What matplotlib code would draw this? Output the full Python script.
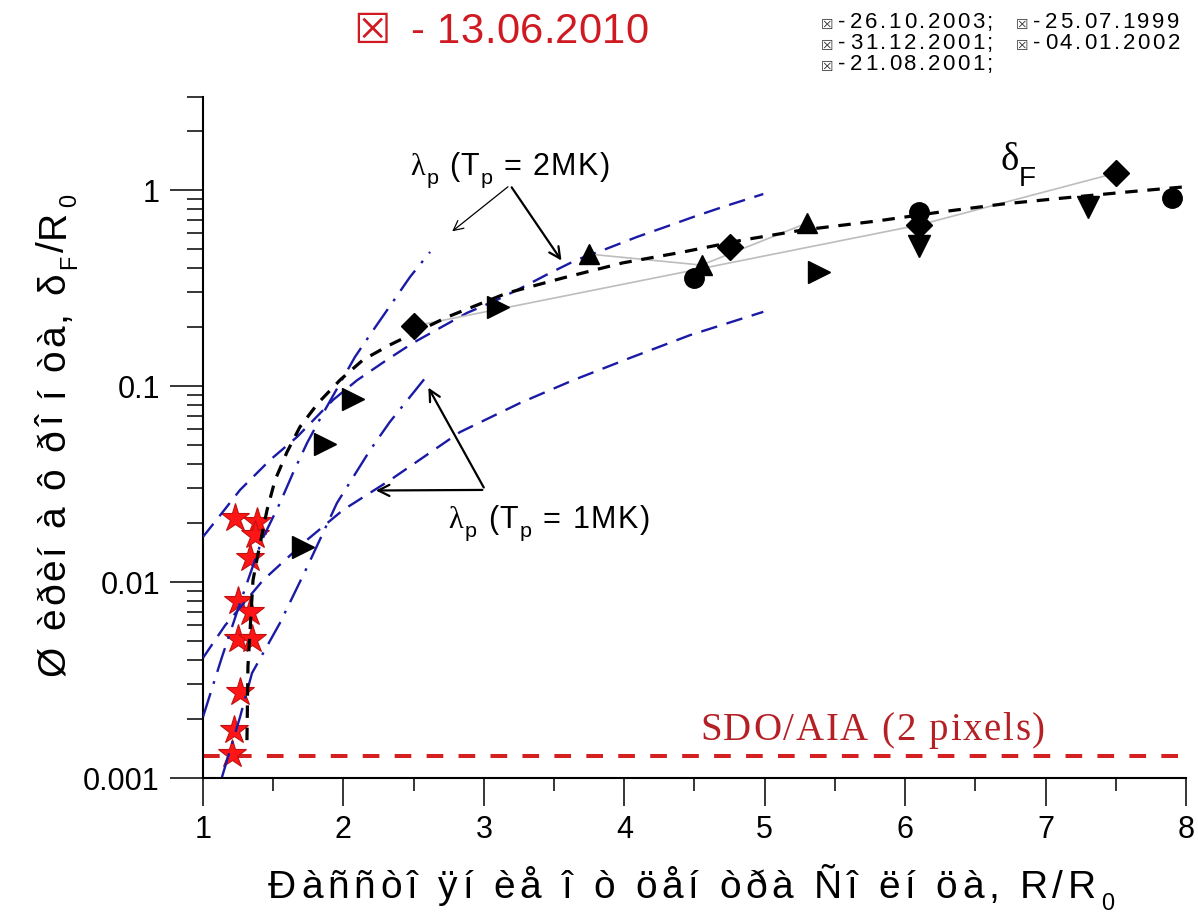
import numpy as np
import matplotlib
matplotlib.use("Agg")
import matplotlib.pyplot as plt
from matplotlib import font_manager as fm
from matplotlib.font_manager import FontProperties
from matplotlib.ft2font import FT2Font
from matplotlib.ticker import FixedLocator, MultipleLocator, LogLocator, NullFormatter, FixedFormatter
try:
    from matplotlib.ft2font import LoadFlags
    NOHINT = LoadFlags.NO_HINTING
except Exception:
    from matplotlib.ft2font import LOAD_NO_HINTING as NOHINT

W, H, DPI = 1198, 916, 100

# ---------------- data ----------------
# red stars: 13.06.2010
star_x = [1.23, 1.385, 1.37, 1.335, 1.25, 1.335, 1.25, 1.35, 1.265, 1.22, 1.21]
star_y = [0.0212, 0.0202, 0.0174, 0.0133, 0.0080, 0.0070, 0.0051, 0.0051, 0.00275, 0.00176, 0.00133]

# black symbols (other events)
circ_x = [4.50, 6.10, 7.90]
circ_y = [0.356, 0.772, 0.91]
diam_x = [2.50, 4.75, 6.10, 7.50]
diam_y = [0.202, 0.512, 0.663, 1.22]
tup_x = [3.75, 4.55, 5.30]
tup_y = [0.471, 0.414, 0.678]
tdn_x = [6.10, 7.30]
tdn_y = [0.518, 0.819]
trt_x = [1.71, 1.87, 2.07, 3.10, 5.39]
trt_y = [0.0151, 0.0506, 0.0859, 0.253, 0.382]

# thin grey connecting line
grey_x = [2.50, 6.10, 7.50]
grey_y = [0.202, 0.663, 1.22]

# delta_F fit (black dashed)
fit_x = [1.313, 1.32, 1.356, 1.39, 1.456, 1.513, 1.598, 1.69, 1.82, 1.976, 2.14, 2.33, 2.74,
         3.165, 3.564, 3.99, 4.42, 4.846, 5.27, 5.80, 6.25, 6.70, 7.125, 7.58, 7.97]
fit_y = [0.00156, 0.0037, 0.0102, 0.0137, 0.0233, 0.0331, 0.046, 0.0618, 0.0819, 0.1073, 0.136, 0.162, 0.225,
         0.298, 0.356, 0.425, 0.483, 0.556, 0.625, 0.695, 0.772, 0.849, 0.91, 0.977, 1.035]

# lambda_p curves (blue)
l2mk_x = [1.0, 1.135, 1.264, 1.477, 1.67, 1.926, 2.097, 2.31, 2.496, 2.688, 2.88, 3.094, 3.279, 3.47,
          3.66, 3.85, 4.09, 4.29, 4.49, 4.70, 4.99]
l2mk_y = [0.017, 0.0225, 0.0295, 0.0419, 0.055, 0.0849, 0.107, 0.136, 0.166, 0.198, 0.236, 0.275, 0.32,
          0.377, 0.44, 0.494, 0.576, 0.647, 0.728, 0.819, 0.954]
l1mk_x = [1.0, 1.157, 1.427, 1.741, 1.997, 2.332, 2.83, 3.258, 3.635, 4.04, 4.47, 4.99]
l1mk_y = [0.0041, 0.0060, 0.0102, 0.0164, 0.0233, 0.0331, 0.0582, 0.0819, 0.107, 0.139, 0.182, 0.239]
l2mk_b_x = [1.0, 1.135, 1.264, 1.42, 1.548, 1.641, 1.741, 1.848, 2.083, 2.204, 2.346, 2.474, 2.617]
l2mk_b_y = [0.00205, 0.00414, 0.00782, 0.0164, 0.0253, 0.036, 0.0512, 0.0711, 0.141, 0.189, 0.265, 0.36, 0.483]
l1mk_b_x = [1.135, 1.264, 1.349, 1.548, 1.741, 1.954, 2.19, 2.33, 2.617]
l1mk_b_y = [0.00101, 0.00205, 0.00343, 0.00618, 0.0119, 0.0253, 0.0471, 0.0655, 0.118]

sdo_level = 0.0013

x_ticks = [1, 2, 3, 4, 5, 6, 7, 8]
y_ticks = [0.001, 0.01, 0.1, 1]
y_tick_labels = ["0.001", "0.01", "0.1", "1"]

title_date = "13.06.2010"
legend_dates = [["26.10.2003;", "25.07.1999"], ["31.12.2001;", "04.01.2002"], ["21.08.2001;"]]
xlabel_main = "Ðàññòî ÿí èå î ò öåí òðà Ñî ëí öà, R/R"
ylabel_main = "Ø èðèí à ô ðî í òà, "

# ---------------- fonts ----------------
def has_font(name):
    try:
        fm.findfont(FontProperties(family=name), fallback_to_default=False)
        return True
    except Exception:
        return False

SANS = next((f for f in ["Liberation Sans Narrow", "Liberation Sans"] if has_font(f)), "DejaVu Sans")
SERIF = "Liberation Serif" if has_font("Liberation Serif") else "DejaVu Serif"
SYM = "DejaVu Sans"
plt.rcParams['font.family'] = [SANS, 'DejaVu Sans']
plt.rcParams['lines.scale_dashes'] = False

_paths = {}
def advance_px(ch, family, size_pt):
    if family not in _paths:
        _paths[family] = fm.findfont(FontProperties(family=family))
    f = FT2Font(_paths[family])
    f.set_size(size_pt, DPI)
    g = f.load_char(ord(ch), flags=NOHINT)
    return g.linearHoriAdvance / 65536.0

fig = plt.figure(figsize=(W / DPI, H / DPI), dpi=DPI)

def tracked(x0, y0, segs, size, color, end=None, track=0.0, rot=0):
    """Place characters one by one (pixel coords, y downward) with letter spacing."""
    items = []
    for txt, fam, rs, sh in segs:
        for ch in txt:
            fs = size * rs
            items.append((ch, fam, fs, sh * size * DPI / 72.0, advance_px(ch, fam, fs)))
    if end is not None and len(items) > 1:
        start = x0 if rot == 0 else y0
        total = sum(i[4] for i in items[:-1]) + items[-1][4] * 0.85
        track = (abs(end - start) - total) / (len(items) - 1)
    pos = 0.0
    for ch, fam, fs, shift, adv in items:
        if ch != ' ':
            if rot == 0:
                px, py = x0 + pos, y0 - shift
            else:
                px, py = x0 - shift, y0 - pos
            fig.text(px / W, 1 - py / H, ch, fontsize=fs, family=[fam, 'DejaVu Sans'], color=color,
                     ha='left', va='baseline', rotation=rot, rotation_mode='anchor')
        pos += adv + track

# ---------------- axes ----------------
ax = fig.add_axes([203 / W, 1 - 778 / H, (1186 - 203) / W, (778 - 96.5) / H])
ax.set_xlim(1, 8)
ax.set_yscale('log')
ax.set_ylim(0.001, 3)
for s in ['top', 'right']:
    ax.spines[s].set_visible(False)
for s in ['left', 'bottom']:
    ax.spines[s].set_linewidth(1.5)

ax.xaxis.set_major_locator(FixedLocator(x_ticks))
ax.xaxis.set_minor_locator(MultipleLocator(0.5))
ax.yaxis.set_major_locator(FixedLocator(y_ticks))
ax.yaxis.set_major_formatter(FixedFormatter(y_tick_labels))
ax.yaxis.set_minor_locator(LogLocator(base=10, subs=np.arange(2, 10)))
ax.yaxis.set_minor_formatter(NullFormatter())
ax.tick_params(axis='x', which='major', length=20, width=1.1, labelsize=22, pad=7)
ax.tick_params(axis='x', which='minor', length=9.5, width=1.1)
ax.tick_params(axis='y', which='major', length=24, width=1.1, labelsize=22, pad=7)
ax.tick_params(axis='y', which='minor', length=11.5, width=1.1)

BLUE = '#1a1aa6'
# SDO/AIA level
ax.axhline(sdo_level, color='#d42020', lw=2.9, dashes=(12, 11), zorder=2)
# stars
ax.plot(star_x, star_y, ls='none', marker='*', ms=21, mfc='#ff1515', mec='#c01010', mew=0.8, zorder=3)
# blue lambda_p curves
ax.plot(l2mk_x, l2mk_y, color=BLUE, lw=1.7, dashes=(12, 7), zorder=4)
ax.plot(l1mk_x, l1mk_y, color=BLUE, lw=1.7, dashes=(12, 7), zorder=4)
ax.plot(l2mk_b_x, l2mk_b_y, color=BLUE, lw=1.7, dashes=(18, 7, 2, 7), zorder=4)
ax.plot(l1mk_b_x, l1mk_b_y, color=BLUE, lw=1.7, dashes=(18, 7, 2, 7), zorder=4)
# grey lines
ax.plot(grey_x, grey_y, color='#bdbdbd', lw=1.2, zorder=4)
ax.plot(tup_x, tup_y, color='#bdbdbd', lw=1.2, zorder=4)
# fit
ax.plot(fit_x, fit_y, color='black', lw=2.3, dashes=(9, 7), zorder=5)
# black markers
ax.plot(circ_x, circ_y, ls='none', marker='o', ms=14, color='black', zorder=6)
ax.plot(diam_x, diam_y, ls='none', marker='D', ms=13, color='black', zorder=6)
ax.plot(tup_x, tup_y, ls='none', marker='^', ms=15, color='black', zorder=6)
ax.plot(tdn_x, tdn_y, ls='none', marker='v', ms=16, color='black', zorder=6)
ax.plot(trt_x, trt_y, ls='none', marker='>', ms=16, color='black', zorder=6)

# arrows (data coords)
arr_2mk_from = (3.187, 1.06)
arr_2mk_to = [(2.759, 0.603), (3.564, 0.425)]
arr_1mk_from = (3.009, 0.0295)
arr_1mk_to = [(2.595, 0.101), (2.211, 0.0293)]
ax.annotate('', xy=arr_2mk_to[0], xytext=arr_2mk_from,
            arrowprops=dict(arrowstyle='->,head_length=0.7,head_width=0.35', lw=0.9, color='black'))
ax.annotate('', xy=arr_2mk_to[1], xytext=arr_2mk_from,
            arrowprops=dict(arrowstyle='->,head_length=0.8,head_width=0.4', lw=1.6, color='black'))
for tgt in arr_1mk_to:
    ax.annotate('', xy=tgt, xytext=arr_1mk_from,
                arrowprops=dict(arrowstyle='->,head_length=0.8,head_width=0.4', lw=1.6, color='black'))

# ---------------- texts ----------------
RED = '#d01a22'
fig.text(353 / W, 1 - 43 / H, "☒", fontsize=30, family=[SYM], color=RED, ha='left', va='baseline')
tracked(410, 43, [("-", SANS, 1, 0)], 30, RED)
tracked(437, 43, [(title_date, SANS, 1, 0)], 30, RED, end=645)

leg_rows = [28, 49, 70]
leg_cols = [(821, 838, 850), (1016, 1033, 1045)]
for r, row in enumerate(legend_dates):
    for c, d in enumerate(row):
        bx, dx, x0 = leg_cols[c]
        fig.text(bx / W, 1 - (leg_rows[r] + 1) / H, "☒", fontsize=10, family=[SYM], color='#333333',
                 ha='left', va='baseline')
        tracked(dx, leg_rows[r], [("-", SANS, 1, 0)], 16, 'black')
        tracked(x0, leg_rows[r], [(d, SANS, 1, 0)], 16, 'black', track=2.6)

# x label
tracked(268, 898, [(xlabel_main, SANS, 1, 0), ("0", SANS, 0.6, -0.3)], 28, 'black', end=1112)
# y label (rotated, reads bottom to top)
tracked(64, 676, [(ylabel_main, SANS, 1, 0), ("δ", SANS, 1, 0), ("F", SANS, 0.6, -0.3),
                  ("/R", SANS, 1, 0), ("0", SANS, 0.6, -0.3)], 28, 'black', end=196, rot=90)

# lambda labels
tracked(410, 175, [("λ", SERIF, 1, 0), ("p", SANS, 0.7, -0.3), (" (T", SANS, 1, 0), ("p", SANS, 0.7, -0.3),
                   (" = 2MK)", SANS, 1, 0)], 22, 'black', end=608)
tracked(448, 528, [("λ", SERIF, 1, 0), ("p", SANS, 0.7, -0.3), (" (T", SANS, 1, 0), ("p", SANS, 0.7, -0.3),
                   (" = 1MK)", SANS, 1, 0)], 22, 'black', end=648)
# delta_F
tracked(1000, 170, [("δ", SERIF, 1, 0), ("F", SANS, 0.72, -0.4)], 28, 'black')
# SDO/AIA
tracked(700, 740, [("SDO/AIA (2 pixels)", SERIF, 1, 0)], 28, '#b52025', end=1043)

fig.savefig('out.png', dpi=DPI)
